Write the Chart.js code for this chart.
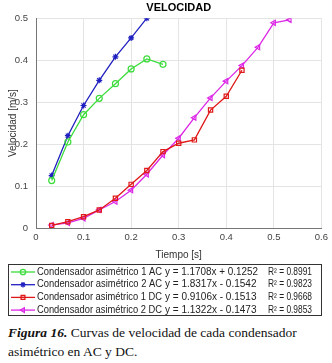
<!DOCTYPE html>
<html>
<head>
<meta charset="utf-8">
<script src="https://cdn.jsdelivr.net/npm/chart.js@4.4.1/dist/chart.umd.min.js"></script>
<style>
  body { margin: 0; background: #fff; width: 332px; height: 363px; overflow: hidden; }
  #wrap { position: relative; width: 332px; height: 320px; }
  #caption {
    font-family: "Liberation Serif", "DejaVu Serif", serif;
    font-size: 13.5px; line-height: 19px; color: #111;
    margin: 3px 0 0 8px; width: 324px;
  }
  #caption b { font-style: italic; }
</style>
</head>
<body>
<div id="wrap"><canvas id="chart" width="332" height="320"></canvas></div>
<div id="caption"><b>Figura 16.</b> Curvas de velocidad de cada condensador asimétrico en AC y DC.</div>
<script>
// time steps (s)
const tiempo = [0.033, 0.067, 0.1, 0.133, 0.167, 0.2, 0.233, 0.267, 0.3, 0.333, 0.367, 0.4, 0.433, 0.467, 0.5, 0.533];

// velocities (m/s)
const ac1 = [0.113, 0.205, 0.27, 0.309, 0.344, 0.379, 0.403, 0.390];
const ac2 = [0.125, 0.22, 0.292, 0.352, 0.408, 0.453, 0.5];
const dc1 = [0.006, 0.015, 0.027, 0.043, 0.071, 0.104, 0.137, 0.182, 0.202, 0.210, 0.281, 0.314, 0.376];
const dc2 = [0.007, 0.012, 0.023, 0.043, 0.063, 0.090, 0.128, 0.174, 0.214, 0.263, 0.310, 0.350, 0.387, 0.431, 0.489, 0.496];

const nombres = ['Condensador asimétrico 1 AC', 'Condensador asimétrico 2 AC', 'Condensador asimétrico 1 DC', 'Condensador asimétrico 2 DC'];
const ecuaciones = ['y = 1.1708x + 0.1252', 'y = 1.8317x - 0.1542', 'y = 0.9106x - 0.1513', 'y = 1.1322x - 0.1473'];
const r2 = ['0.8991', '0.9823', '0.9668', '0.9853'];

const colores = ['#3cdc3c', '#2020c0', '#e01818', '#dc28e6'];
const marcas = ['circle', 'star', 'rect', 'triangle'];
const giros = [0, 0, 0, -90];

function toPoints(vals) {
  return vals.map((v, i) => ({ x: tiempo[i], y: v }));
}

const series = [ac1, ac2, dc1, dc2];

const datasets = series.map((s, i) => ({
  label: nombres[i],
  data: toPoints(s),
  borderColor: colores[i],
  backgroundColor: 'rgba(0,0,0,0)',
  borderWidth: 1.3,
  pointStyle: marcas[i],
  pointRotation: giros[i],
  pointRadius: 3,
  pointBorderWidth: 1.2,
  pointBorderColor: colores[i],
  tension: 0
}));

// draw text squeezed to a given width (the original uses a narrow font)
function narrowText(c, txt, x, y, w) {
  const real = c.measureText(txt).width;
  const k = Math.min(1, w / real);
  c.save();
  c.translate(x, y);
  c.scale(k, 1);
  c.fillText(txt, 0, 0);
  c.restore();
}

/* legend + box drawn below the axes */
const legendPlugin = {
  id: 'matlabLegend',
  afterDraw(chart) {
    const c = chart.ctx;
    c.save();
    c.strokeStyle = '#333';
    c.lineWidth = 1;
    c.strokeRect(8.5, 264.5, 313, 51);
    c.font = '10px "Liberation Sans", Arial, sans-serif';
    c.textBaseline = 'middle';
    for (let i = 0; i < nombres.length; i++) {
      const y = 272 + i * 12.7;
      c.strokeStyle = colores[i];
      c.lineWidth = 1.3;
      c.beginPath();
      c.moveTo(11, y);
      c.lineTo(35, y);
      c.stroke();
      c.fillStyle = 'rgba(0,0,0,0)';
      Chart.helpers.drawPoint(c, {
        pointStyle: marcas[i], rotation: giros[i], radius: 2.7, borderWidth: 1.2
      }, 23, y);
      c.fillStyle = '#222';
      narrowText(c, nombres[i], 37, y, 125);
      narrowText(c, ecuaciones[i], 165, y, 93);
      narrowText(c, 'R² = ' + r2[i], 268, y, 44);
    }
    c.restore();
  }
};

const ctx = document.getElementById('chart').getContext('2d');
new Chart(ctx, {
  type: 'line',
  data: { datasets: datasets },
  plugins: [legendPlugin],
  options: {
    responsive: false,
    animation: false,
    layout: { padding: { left: 0, right: 10, top: 0, bottom: 59 } },
    plugins: {
      legend: { display: false },
      tooltip: { enabled: false },
      title: {
        display: true,
        fullSize: false,
        text: 'VELOCIDAD',
        color: '#000',
        font: { family: '"Liberation Sans", Arial, sans-serif', size: 11, weight: 'bold' },
        padding: { top: 1, bottom: 4 }
      }
    },
    scales: {
      x: {
        type: 'linear',
        min: 0,
        max: 0.6,
        ticks: {
          stepSize: 0.1,
          color: '#444',
          font: { family: '"Liberation Sans", Arial, sans-serif', size: 9.5 },
          padding: 4,
          maxRotation: 0
        },
        grid: { color: '#e4e4e4', drawTicks: false },
        border: { color: '#777' },
        title: {
          display: true,
          text: 'Tiempo [s]',
          color: '#333',
          font: { family: '"Liberation Sans", Arial, sans-serif', size: 10 },
          padding: { top: 2, bottom: 0 }
        },
        afterFit(scale) { scale.height = 33; }
      },
      y: {
        min: 0,
        max: 0.5,
        ticks: {
          stepSize: 0.1,
          color: '#444',
          font: { family: '"Liberation Sans", Arial, sans-serif', size: 9.5 },
          padding: 8
        },
        grid: { color: '#e4e4e4', drawTicks: false },
        border: { color: '#777' },
        title: {
          display: true,
          text: 'Velocidad [m/s]',
          color: '#333',
          font: { family: '"Liberation Sans", Arial, sans-serif', size: 10 },
          padding: { top: 7, bottom: 2 }
        },
        afterFit(scale) { scale.width = 36; }
      }
    }
  }
});
</script>
</body>
</html>
